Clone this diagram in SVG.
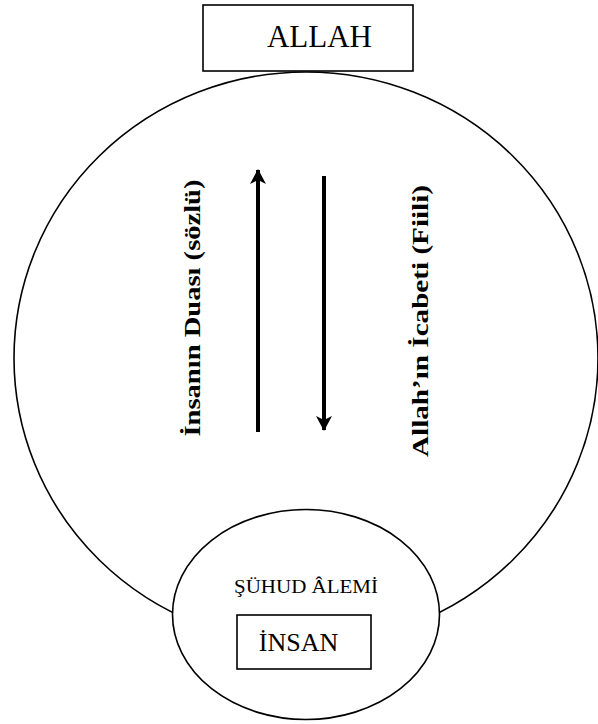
<svg xmlns="http://www.w3.org/2000/svg" width="598" height="724" viewBox="0 0 598 724">
<style>
.shape{fill:#fff;stroke:#000;stroke-width:1.6}
.t{font-family:"Liberation Serif","Times New Roman",serif;fill:#000}
.b{font-weight:bold}
.arr{stroke:#000;stroke-width:4;fill:none}
</style>
<defs>
<marker id="ah" markerWidth="16" markerHeight="16" refX="14" refY="8" orient="auto" markerUnits="userSpaceOnUse">
<path d="M0,0 L15,8 L0,16 L4,8 Z" fill="#000"/>
</marker>
</defs>
<rect width="598" height="724" fill="#fff"/>
<g id="big-circle">
<ellipse class="shape" cx="306" cy="358" rx="292" ry="286"/>
</g>
<g id="allah">
<rect class="shape" x="203" y="5" width="210" height="66"/>
<text class="t" x="319.5" y="47" font-size="31" text-anchor="middle">ALLAH</text>
</g>
<g id="connectors">
<line class="arr" x1="258" y1="432" x2="258" y2="170" marker-end="url(#ah)"/>
<line class="arr" x1="324" y1="176" x2="324" y2="430" marker-end="url(#ah)"/>
</g>
<g id="label-dua">
<text class="t b" transform="translate(200,308) rotate(-90)" font-size="24" text-anchor="middle" textLength="257" lengthAdjust="spacingAndGlyphs">İnsanın Duası (sözlü)</text>
</g>
<g id="label-icabet">
<text class="t b" transform="translate(428,321) rotate(-90)" font-size="24" text-anchor="middle" textLength="272" lengthAdjust="spacingAndGlyphs">Allah’ın İcabeti (Fiili)</text>
</g>
<g id="suhud">
<ellipse class="shape" cx="306" cy="614.5" rx="133.5" ry="105"/>
<text class="t" x="306" y="593" font-size="18" text-anchor="middle" textLength="144" lengthAdjust="spacingAndGlyphs">ŞÜHUD ÂLEMİ</text>
</g>
<g id="insan">
<rect class="shape" x="237" y="615" width="134" height="54"/>
<text class="t" x="298.5" y="651" font-size="26" text-anchor="middle">İNSAN</text>
</g>
</svg>
